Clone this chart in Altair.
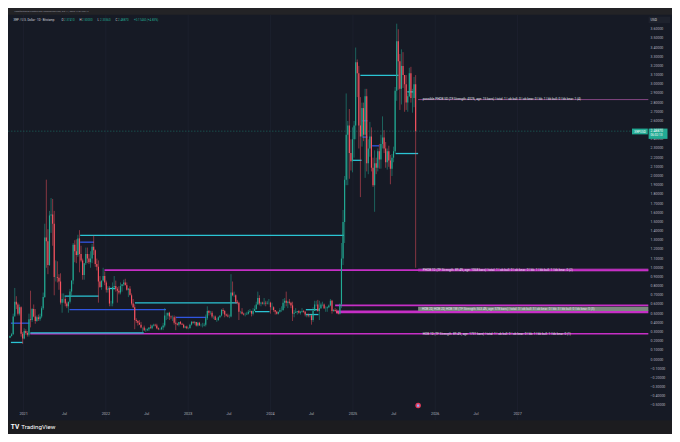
import altair as alt
import pandas as pd

W, H = 664, 426

# ---------------- weekly candles: (high, low, close); open = previous close
first_open = 0.236
w2020 = [
    (0.262, 0.233, 0.255), (0.290, 0.250, 0.276), (0.500, 0.270, 0.470),
    (0.780, 0.490, 0.630), (0.690, 0.550, 0.600), (0.620, 0.480, 0.500),
    (0.600, 0.480, 0.570), (0.580, 0.250, 0.280), (0.300, 0.170, 0.230),
]
w2021 = [
    (0.340, 0.220, 0.310), (0.330, 0.270, 0.290), (0.310, 0.250, 0.270), (0.500, 0.250, 0.440),
    (0.750, 0.350, 0.430), (0.560, 0.410, 0.550), (0.600, 0.460, 0.470), (0.550, 0.390, 0.420),
    (0.480, 0.410, 0.460), (0.490, 0.420, 0.440), (0.500, 0.420, 0.470), (0.580, 0.450, 0.560), (0.730, 0.540, 0.680),
    (1.480, 0.670, 1.330), (1.960, 1.000, 1.290), (1.420, 0.930, 1.030), (1.620, 1.020, 1.570),
    (1.760, 1.380, 1.580), (1.750, 1.240, 1.480), (1.620, 0.700, 0.900), (1.080, 0.850, 0.900), (1.070, 0.840, 0.890),
    (0.930, 0.760, 0.850), (0.940, 0.600, 0.620), (0.720, 0.510, 0.660), (0.720, 0.620, 0.660),
    (0.680, 0.580, 0.610), (0.630, 0.560, 0.580), (0.630, 0.510, 0.630), (0.770, 0.610, 0.740),
    (0.860, 0.700, 0.860), (1.270, 0.820, 1.250), (1.300, 1.060, 1.180), (1.310, 1.050, 1.140), (1.360, 1.120, 1.320),
    (1.410, 0.950, 1.150), (1.240, 1.060, 1.080), (1.100, 0.870, 0.920), (1.050, 0.870, 1.050),
    (1.220, 1.030, 1.150), (1.220, 1.050, 1.100), (1.150, 1.040, 1.060), (1.180, 1.000, 1.100),
    (1.260, 1.050, 1.230), (1.350, 1.140, 1.190), (1.200, 1.010, 1.040), (1.100, 0.970, 1.010), (1.080, 0.620, 0.850),
    (0.910, 0.780, 0.790), (0.860, 0.760, 0.860), (1.000, 0.850, 0.910), (0.960, 0.810, 0.840),
]
w2022 = [
    (0.860, 0.730, 0.760), (0.800, 0.730, 0.770), (0.800, 0.580, 0.610), (0.640, 0.580, 0.610), (0.840, 0.580, 0.790),
    (0.910, 0.760, 0.800), (0.860, 0.740, 0.770), (0.790, 0.620, 0.750), (0.800, 0.710, 0.730),
    (0.840, 0.710, 0.800), (0.820, 0.740, 0.820), (0.870, 0.800, 0.840), (0.880, 0.810, 0.810),
    (0.840, 0.750, 0.760), (0.780, 0.680, 0.770), (0.800, 0.710, 0.700), (0.720, 0.590, 0.610),
    (0.660, 0.560, 0.570), (0.600, 0.330, 0.430), (0.450, 0.400, 0.420), (0.430, 0.370, 0.400), (0.430, 0.380, 0.380),
    (0.410, 0.340, 0.350), (0.350, 0.290, 0.350), (0.370, 0.310, 0.320), (0.340, 0.300, 0.320),
    (0.340, 0.310, 0.330), (0.350, 0.310, 0.350), (0.380, 0.340, 0.340), (0.380, 0.330, 0.370),
    (0.390, 0.360, 0.380), (0.390, 0.360, 0.370), (0.390, 0.330, 0.340), (0.350, 0.320, 0.330), (0.340, 0.320, 0.330),
    (0.360, 0.320, 0.350), (0.400, 0.320, 0.370), (0.560, 0.350, 0.480), (0.510, 0.430, 0.480),
    (0.510, 0.440, 0.510), (0.520, 0.430, 0.470), (0.480, 0.440, 0.460), (0.480, 0.420, 0.460), (0.480, 0.380, 0.400),
    (0.470, 0.320, 0.390), (0.400, 0.370, 0.380), (0.410, 0.360, 0.410), (0.420, 0.380, 0.390),
    (0.400, 0.380, 0.380), (0.390, 0.340, 0.350), (0.360, 0.340, 0.360), (0.370, 0.330, 0.340),
]
w2023 = [
    (0.350, 0.330, 0.340), (0.390, 0.340, 0.380), (0.420, 0.370, 0.410), (0.420, 0.390, 0.400), (0.420, 0.380, 0.410),
    (0.410, 0.360, 0.370), (0.410, 0.360, 0.400), (0.410, 0.370, 0.370), (0.390, 0.360, 0.370),
    (0.400, 0.350, 0.370), (0.400, 0.360, 0.380), (0.490, 0.360, 0.450), (0.580, 0.430, 0.530),
    (0.540, 0.480, 0.510), (0.530, 0.490, 0.510), (0.530, 0.450, 0.470), (0.480, 0.440, 0.470),
    (0.480, 0.430, 0.430), (0.450, 0.410, 0.430), (0.470, 0.420, 0.460), (0.480, 0.450, 0.480), (0.550, 0.470, 0.540),
    (0.560, 0.500, 0.530), (0.540, 0.460, 0.490), (0.500, 0.470, 0.480), (0.500, 0.460, 0.470),
    (0.490, 0.450, 0.470), (0.930, 0.460, 0.730), (0.850, 0.690, 0.700), (0.740, 0.680, 0.700), (0.710, 0.610, 0.630),
    (0.650, 0.600, 0.620), (0.630, 0.430, 0.520), (0.530, 0.500, 0.520), (0.560, 0.490, 0.500),
    (0.510, 0.480, 0.490), (0.510, 0.470, 0.490), (0.520, 0.490, 0.500), (0.540, 0.490, 0.520),
    (0.550, 0.510, 0.530), (0.530, 0.470, 0.500), (0.560, 0.480, 0.530), (0.590, 0.530, 0.550), (0.630, 0.540, 0.600),
    (0.740, 0.600, 0.670), (0.700, 0.590, 0.610), (0.630, 0.580, 0.620), (0.630, 0.600, 0.610),
    (0.670, 0.590, 0.620), (0.640, 0.580, 0.610), (0.640, 0.600, 0.620), (0.660, 0.600, 0.620),
]
w2024 = [
    (0.630, 0.500, 0.570), (0.620, 0.540, 0.570), (0.580, 0.520, 0.540), (0.540, 0.490, 0.520), (0.530, 0.490, 0.500),
    (0.520, 0.490, 0.520), (0.560, 0.510, 0.540), (0.580, 0.520, 0.540), (0.660, 0.530, 0.620),
    (0.670, 0.560, 0.640), (0.740, 0.580, 0.620), (0.640, 0.560, 0.630), (0.660, 0.600, 0.620),
    (0.630, 0.560, 0.590), (0.630, 0.420, 0.500), (0.540, 0.460, 0.510), (0.560, 0.510, 0.520), (0.530, 0.490, 0.530),
    (0.540, 0.500, 0.510), (0.530, 0.490, 0.520), (0.560, 0.510, 0.530), (0.540, 0.510, 0.520),
    (0.530, 0.470, 0.490), (0.500, 0.460, 0.490), (0.500, 0.460, 0.480), (0.490, 0.460, 0.480),
    (0.490, 0.380, 0.430), (0.570, 0.410, 0.530), (0.640, 0.530, 0.600), (0.640, 0.580, 0.600), (0.650, 0.520, 0.530),
    (0.640, 0.430, 0.560), (0.620, 0.550, 0.600), (0.630, 0.580, 0.600), (0.610, 0.550, 0.560),
    (0.580, 0.520, 0.560), (0.580, 0.520, 0.570), (0.600, 0.560, 0.590), (0.660, 0.580, 0.640), (0.650, 0.500, 0.530),
    (0.550, 0.520, 0.540), (0.560, 0.520, 0.530), (0.550, 0.500, 0.510), (0.530, 0.490, 0.500),
    (0.610, 0.490, 0.600), (1.270, 0.560, 1.100), (1.630, 1.030, 1.500), (2.000, 1.270, 1.960),
    (2.900, 1.900, 2.450), (2.600, 1.900, 2.550), (2.730, 1.970, 2.250), (2.400, 2.060, 2.160), (2.530, 2.040, 2.400),
]
w2025 = [
    (2.600, 2.200, 2.550), (3.400, 2.400, 3.240), (3.270, 2.860, 3.120), (3.200, 2.300, 2.550),
    (2.860, 1.770, 2.430), (2.800, 2.320, 2.740), (2.800, 2.380, 2.450), (2.950, 1.980, 2.870),
    (2.950, 2.050, 2.140), (2.400, 2.020, 2.300), (2.590, 2.210, 2.430), (2.530, 2.050, 2.090), (2.200, 1.880, 1.900),
    (2.280, 1.610, 2.140), (2.200, 2.020, 2.090), (2.300, 2.050, 2.270), (2.350, 2.080, 2.180),
    (2.450, 2.080, 2.350), (2.650, 2.300, 2.420), (2.500, 2.250, 2.300), (2.370, 2.090, 2.150),
    (2.300, 2.070, 2.270), (2.330, 2.100, 2.170), (2.230, 1.910, 2.080), (2.240, 2.000, 2.200), (2.320, 2.150, 2.270),
    (2.970, 2.250, 2.930), (3.660, 2.820, 3.470), (3.600, 2.940, 3.250), (3.330, 2.720, 2.950),
    (3.380, 2.780, 3.200), (3.350, 2.960, 3.100), (3.100, 2.700, 3.000), (3.100, 2.720, 2.800),
    (2.900, 2.700, 2.870), (3.180, 2.860, 3.120), (3.190, 2.800, 2.850), (2.950, 2.690, 2.850), (3.080, 2.750, 3.000),
    (3.100, 1.000, 2.4887),
]
week_starts = ["2020-11-02", "2021-01-04", "2022-01-03", "2023-01-02", "2024-01-01", "2025-01-06"]
week_blocks = [w2020, w2021, w2022, w2023, w2024, w2025]

last_price = 2.4887
price_text = "2.48870"
countdown = "06:02:13"

# ---------------- order-block lines: (start, end, price)
RIGHT = "2028-08-03"
cyan_lines = [
    ("2021-09-09", "2024-11-22", 1.352), ("2020-11-06", "2020-12-28", 0.186),
    ("2021-01-31", "2022-06-18", 0.291), ("2021-07-02", "2021-11-30", 0.690),
    ("2022-01-13", "2022-02-12", 0.774), ("2022-05-10", "2023-08-07", 0.617),
    ("2023-10-24", "2023-12-28", 0.522), ("2024-06-06", "2024-08-01", 0.543),
    ("2024-06-06", "2024-08-01", 0.490), ("2025-02-03", "2025-07-22", 3.096),
    ("2025-08-30", "2025-09-25", 2.917), ("2025-07-09", "2025-10-17", 2.245),
    ("2024-12-31", "2025-02-08", 2.171),
]
blue_lines = [
    ("2021-09-09", "2021-11-09", 1.279), ("2020-11-06", "2021-01-27", 0.396),
    ("2021-07-24", "2022-09-25", 0.543), ("2022-11-08", "2023-03-22", 0.459),
    ("2025-02-12", "2025-03-06", 2.602), ("2025-02-12", "2025-03-06", 2.424),
    ("2025-03-27", "2025-04-27", 2.329),
]
magenta_lines = [
    ("2021-12-26", RIGHT, 0.975), ("2021-01-31", RIGHT, 0.281), ("2024-10-14", RIGHT, 0.591),
]
magenta_band = [("2024-10-18", RIGHT, 0.505, 0.535)]
phob_line = [("2025-10-17", RIGHT, 2.833)]
phob1d_box = [("2025-10-17", RIGHT, 0.958, 0.993)]
hob_box = [("2025-10-17", RIGHT, 0.529, 0.575)]

ob_labels = [
    ("2025-11-07", 2.845, "possible PHOB 5D (TF Strength: 432%, age: 15 bars) | total: 1 | ob bull: 0 | ob bear: 0 | bb: 1 | bb bull: 0 | bb bear: 1 (4)"),
    ("2025-11-07", 0.975, "PHOB 1D (TF Strength: 89.4%, age: 1068 bars) | total: 1 | ob bull: 0 | ob bear: 0 | bb: 1 | bb bull: 1 | bb bear: 0 (2)"),
    ("2025-11-03", 0.552, "HOB 2D, HOB 2D, HOB 1W (TF Strength: 563.4%, age: 578 bars) | total: 3 | ob bull: 3 | ob bear: 0 | bb: 3 | bb bull: 0 | bb bear: 0 (3)"),
    ("2025-11-07", 0.281, "HOB 1D (TF Strength: 89.4%, age: 1731 bars) | total: 1 | ob bull: 0 | ob bear: 0 | bb: 1 | bb bull: 1 | bb bear: 0 (1)"),
]

price_ticks = [-0.5, -0.4, -0.3, -0.2, -0.1, 0.0, 0.1, 0.2, 0.3, 0.4, 0.5, 0.6, 0.7, 0.8, 0.9,
               1.0, 1.1, 1.2, 1.3, 1.4, 1.5, 1.6, 1.7, 1.8, 1.9, 2.0, 2.1, 2.2, 2.3, 2.4, 2.5,
               2.6, 2.7, 2.8, 2.9, 3.0, 3.1, 3.2, 3.3, 3.4, 3.5, 3.6]
time_ticks = ["2021-01-01", "2021-07-01", "2022-01-01", "2022-07-01", "2023-01-01", "2023-07-01",
              "2024-01-01", "2024-07-01", "2025-01-01", "2025-07-01", "2026-01-01", "2026-07-01",
              "2027-01-01"]
time_labels = ["2021", "Jul", "2022", "Jul", "2023", "Jul", "2024", "Jul", "2025", "Jul", "2026",
               "Jul", "2027"]
year_grid = ["2021-01-01", "2022-01-01", "2023-01-01", "2024-01-01", "2025-01-01", "2026-01-01", "2027-01-01"]
event_icon = ["2025-10-17"]

header_text = "Pagefault2020 created with TradingView.com, Oct 11, 2025 17:57 UTC+2"
legend_title = "XRP / U.S. Dollar · 1D · Bitstamp"
legend_items = [("O", "2.37410"), ("H", "2.50000"), ("L", "2.33560"), ("C", "2.48870")]
legend_change = "+0.11460 (+4.83%)"

# ---------------- build tables
rows = []
prev = first_open
for start, block in zip(week_starts, week_blocks):
    dates = pd.date_range(start, periods=len(block), freq="7D")
    for d, (hi, lo, cl) in zip(dates, block):
        rows.append({"date": d.strftime("%Y-%m-%d"), "open": prev, "high": hi, "low": lo, "close": cl})
        prev = cl
candles = pd.DataFrame(rows)


def seg_df(items):
    return pd.DataFrame(items, columns=["start", "end", "price"])


def box_df(items):
    return pd.DataFrame(items, columns=["start", "end", "p1", "p2"])


def fmt_price(p):
    s = f"{abs(p):.5f}"
    return ("\u2212" + s) if p < 0 else s


BG = "#161a25"
UP = "#22ab94"
DOWN = "#f7525f"
TXT = "#b2b5be"
FONT = "Roboto"

xs = alt.Scale(type="utc", domain=[alt.DateTime(year=2020, month=10, date=24, utc=True),
                                   alt.DateTime(year=2028, month=11, date=16, utc=True)])
ys = alt.Scale(domain=[-0.8118, 3.8311], nice=False, zero=False)


def X(f):
    return alt.X(f, type="temporal", scale=xs, axis=None)


def Y(f):
    return alt.Y(f, type="quantitative", scale=ys, axis=None)


layers = []

# year grid
grid = alt.Chart(pd.DataFrame({"d": year_grid})).mark_rule(color="#1e2231", strokeWidth=0.7).encode(
    x=X("d"), y=alt.value(6.8), y2=alt.value(412))
layers.append(grid)

# current price line
pline = alt.Chart(pd.DataFrame({"p": [last_price]})).mark_rule(
    color=UP, strokeWidth=0.6, strokeDash=[1.5, 1.5], opacity=0.6).encode(
    y=Y("p"), x=alt.value(0), x2=alt.value(624))
layers.append(pline)

# boxes behind labels
layers.append(alt.Chart(box_df(magenta_band)).mark_rect(color="#c62fc6").encode(
    x=X("start"), x2="end", y=Y("p1"), y2="p2"))
layers.append(alt.Chart(box_df(phob1d_box)).mark_rect(color="#7e2d84").encode(
    x=X("start"), x2="end", y=Y("p1"), y2="p2"))
layers.append(alt.Chart(box_df(hob_box)).mark_rect(color="#7a8a7e").encode(
    x=X("start"), x2="end", y=Y("p1"), y2="p2"))

# order-block lines
layers.append(alt.Chart(seg_df(magenta_lines)).mark_rule(color="#c62fc6", strokeWidth=1.7).encode(
    x=X("start"), x2="end", y=Y("price")))
layers.append(alt.Chart(seg_df(phob_line)).mark_rule(color="#a0509a", strokeWidth=0.8).encode(
    x=X("start"), x2="end", y=Y("price")))
layers.append(alt.Chart(seg_df(cyan_lines)).mark_rule(color="#2bc4d4", strokeWidth=1.3).encode(
    x=X("start"), x2="end", y=Y("price")))
layers.append(alt.Chart(seg_df(blue_lines)).mark_rule(color="#3056e0", strokeWidth=1.3).encode(
    x=X("start"), x2="end", y=Y("price")))

# candles
cond = alt.condition("datum.open <= datum.close", alt.value(UP), alt.value(DOWN))
wick = alt.Chart(candles).mark_rule(strokeWidth=0.5).encode(
    x=X("date"), y=Y("low"), y2="high:Q", color=cond)
body = alt.Chart(candles).mark_rule(strokeWidth=1.15).encode(
    x=X("date"), y=Y("open"), y2="close:Q", color=cond)
layers += [wick, body]

# order-block labels
lab = pd.DataFrame(ob_labels, columns=["d", "p", "t"])
layers.append(alt.Chart(lab).mark_text(align="left", baseline="middle", fontSize=3.1, font=FONT,
                                       color="#e0e3eb").encode(x=X("d"), y=Y("p"), text="t:N"))

# price scale labels (through the y scale)
pt = pd.DataFrame({"p": price_ticks, "t": [fmt_price(p) for p in price_ticks]})
layers.append(alt.Chart(pt).mark_text(align="left", baseline="middle", fontSize=3.5, font=FONT,
                                      color=TXT).encode(x=alt.value(642.6), y=Y("p"), text="t:N"))
# time scale labels (through the x scale)
tt = pd.DataFrame({"d": time_ticks, "t": time_labels})
layers.append(alt.Chart(tt).mark_text(align="center", baseline="middle", fontSize=3.7, font=FONT,
                                      color=TXT).encode(x=X("d"), y=alt.value(406.3), text="t:N"))

# price-scale labels (XRPUSD / last price)
lp = pd.DataFrame({"p": [last_price], "s": ["XRPUSD"], "v": [price_text], "c": [countdown]})
layers.append(alt.Chart(lp).mark_rect(color=UP, yOffset=-2.6, y2Offset=3.2).encode(
    x=alt.value(624), x2=alt.value(639.8), y=Y("p"), y2="p:Q"))
layers.append(alt.Chart(lp).mark_rect(color=UP, yOffset=-2.6, y2Offset=7.7).encode(
    x=alt.value(640.6), x2=alt.value(659.5), y=Y("p"), y2="p:Q"))
layers.append(alt.Chart(lp).mark_text(color="white", fontSize=3.0, font=FONT, align="center",
                                      baseline="middle", dy=0.3).encode(
    x=alt.value(632), y=Y("p"), text="s:N"))
layers.append(alt.Chart(lp).mark_text(color="white", fontSize=3.4, font=FONT, align="left",
                                      baseline="middle").encode(
    x=alt.value(642.6), y=Y("p"), text="v:N"))
layers.append(alt.Chart(lp).mark_text(color="white", fontSize=3.1, font=FONT, align="left",
                                      baseline="middle", dy=3.9).encode(
    x=alt.value(642.6), y=Y("p"), text="c:N"))

# event icon near the time scale
ic = pd.DataFrame({"d": event_icon})
layers.append(alt.Chart(ic).mark_point(filled=True, color="#e23c5a", size=30, opacity=1).encode(
    x=X("d"), y=alt.value(397.6)))
layers.append(alt.Chart(ic).mark_point(filled=True, color="#8fa8ff", size=5, shape="square", opacity=1).encode(
    x=X("d"), y=alt.value(397.6)))

# header strip and footer strip
one = pd.DataFrame({"a": [0]})
layers.append(alt.Chart(one).mark_rect(color="#232326").encode(
    x=alt.value(0), x2=alt.value(W), y=alt.value(0), y2=alt.value(6.8)))
layers.append(alt.Chart(one).mark_rect(color="#1c1c1f").encode(
    x=alt.value(0), x2=alt.value(W), y=alt.value(412.5), y2=alt.value(H)))
layers.append(alt.Chart(one).mark_text(text=header_text, color="#9598a1", fontSize=2.3, font=FONT,
                                       align="left", baseline="middle").encode(
    x=alt.value(6.5), y=alt.value(3.6)))
layers.append(alt.Chart(one).mark_text(text=legend_title, color="#d1d4dc", fontSize=2.9, font=FONT,
                                       align="left", baseline="middle").encode(
    x=alt.value(5.5), y=alt.value(11.6)))
leg_x = [53.5, 71.5, 89.5, 107.5]
for (k, v), lx in zip(legend_items, leg_x):
    layers.append(alt.Chart(one).mark_text(text=k, color="#d1d4dc", fontSize=2.9, font=FONT,
                                           align="left", baseline="middle").encode(
        x=alt.value(lx), y=alt.value(11.6)))
    layers.append(alt.Chart(one).mark_text(text=v, color=UP, fontSize=2.9, font=FONT,
                                           align="left", baseline="middle").encode(
        x=alt.value(lx + 2.6), y=alt.value(11.6)))
layers.append(alt.Chart(one).mark_text(text=legend_change, color=UP, fontSize=2.9, font=FONT,
                                       align="left", baseline="middle").encode(
    x=alt.value(126), y=alt.value(11.6)))
# USD box
layers.append(alt.Chart(one).mark_rect(color="#1e222d").encode(
    x=alt.value(640.6), x2=alt.value(662), y=alt.value(8.7), y2=alt.value(15.2)))
layers.append(alt.Chart(one).mark_text(text="USD", color="#d1d4dc", fontSize=3.4, font=FONT,
                                       align="left", baseline="middle").encode(
    x=alt.value(642.6), y=alt.value(12)))
# TradingView footer logo
layers.append(alt.Chart(one).mark_text(text="TV", color="white", fontSize=6.5, font=FONT,
                                       fontWeight="bold", align="left", baseline="middle").encode(
    x=alt.value(2.8), y=alt.value(419)))
layers.append(alt.Chart(one).mark_text(text="TradingView", color="white", fontSize=6.2, font=FONT,
                                       align="left", baseline="middle").encode(
    x=alt.value(13.3), y=alt.value(419)))

chart = alt.layer(*layers).properties(
    width=W, height=H, padding=0, autosize=alt.AutoSizeParams(type="none")
).configure(background=BG).configure_view(stroke=None)

chart.save("out.html", embed_options={"renderer": "svg", "actions": False})
